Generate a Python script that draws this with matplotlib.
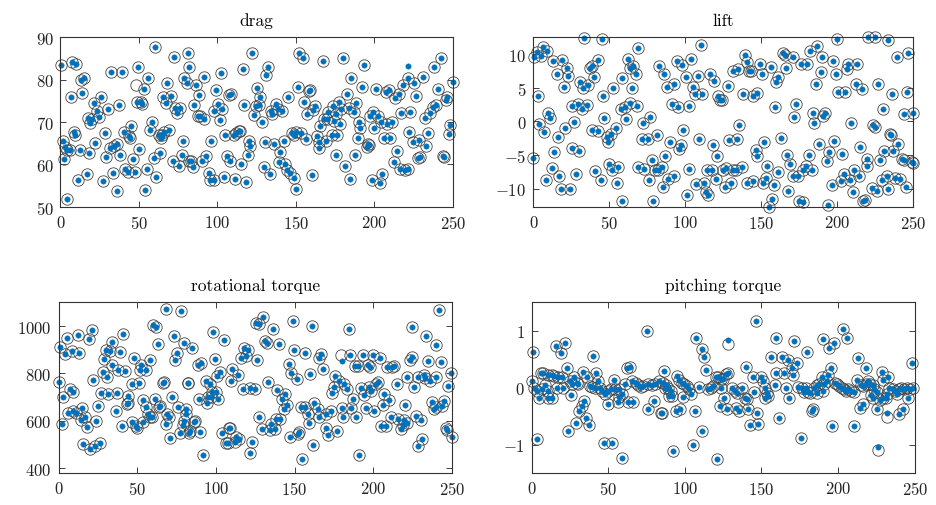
import matplotlib
matplotlib.use("Agg")
import matplotlib.pyplot as plt

# values (x = sample index, y = value)
drag_x = [0.4, 7.4, 10.2, 13.2, 14.9, 6.4, 14.0, 21.2, 17.4, 20.2, 19.1, 23.4, 24.4, 26.1, 30.4, 32.3, 38.9, 37.2, 28.2, 8.5,
          9.3, 1.3, 3.2, 4.2, 2.1, 5.9, 12.3, 18.0, 22.3, 29.3, 31.4, 34.4, 36.1, 38.2, 40.3, 43.5, 44.6, 45.0, 46.3, 49.9,
          33.5, 16.6, 11.0, 27.2, 35.7, 4.2, 41.4, 42.9, 47.3, 55.2, 61.1, 54.1, 49.3, 55.8, 60.1, 53.1, 48.9, 51.0, 52.0, 58.4,
          57.3, 62.6, 64.7, 66.2, 69.0, 64.1, 59.4, 63.3, 71.8, 75.4, 77.1, 78.1, 72.2, 81.1, 68.0, 70.1, 65.2, 67.5, 73.2, 76.0,
          74.3, 79.0, 80.3, 81.7, 81.7,
          86.6, 88.1, 91.3, 84.9, 87.4, 89.1, 91.7, 93.0, 90.2, 83.2, 84.5, 96.1, 94.4, 95.5, 98.1, 99.3, 102.3, 100.2, 97.6, 102.9,
          101.5, 106.1, 108.2, 104.0, 111.4, 118.4, 115.0, 105.1, 110.4, 112.1, 113.6, 114.2, 107.2, 108.7, 116.3, 122.0, 117.2, 119.9, 120.6, 119.5,
          123.5, 125.2, 126.9, 124.8, 126.5, 128.4, 129.5, 133.3, 130.5, 132.0, 131.2, 134.1, 134.8, 137.5, 138.4, 141.2, 136.3, 140.1, 142.2, 139.0,
          143.3, 144.3, 146.5, 148.6, 150.3, 145.2, 147.5, 149.0, 150.3, 153.3, 156.6, 151.8, 154.3, 151.1, 154.9, 158.1, 159.2, 157.1, 160.9, 162.4,
          160.3, 163.4, 164.5, 164.5, 169.4, 167.3, 165.6, 168.1, 170.3, 169.8,
          180.0, 193.2, 185.3, 192.1, 182.6, 177.3, 173.7, 175.2, 178.8, 183.6, 186.8, 188.5, 174.5, 178.3, 173.0, 176.2, 190.0, 191.1, 189.4, 195.7,
          195.3, 196.4, 187.3, 175.2, 181.5, 184.3, 198.5, 203.4, 205.1, 199.1, 202.1, 197.4, 204.2, 208.1, 211.2, 200.0, 206.4, 210.2, 201.3, 207.6,
          209.1, 213.4, 215.5, 214.4, 212.3, 216.6, 219.7, 221.2, 218.3, 221.2, 225.5, 231.0, 226.3, 217.2, 222.9, 232.5, 235.2, 237.4, 238.9, 240.3,
          246.3, 245.4, 238.2, 242.5, 221.9, 224.6, 228.2, 234.0, 233.1, 227.6, 229.3, 243.7, 244.6, 247.3, 248.4, 249.9]
drag_y = [83.4, 84.1, 83.7, 80.0, 80.5, 75.9, 76.9, 74.6, 71.0, 70.6, 69.8, 72.6, 71.2, 75.9, 73.1, 81.9, 81.8, 74.1, 67.4, 67.7,
          66.9, 65.5, 64.0, 63.5, 61.3, 63.4, 63.3, 62.7, 65.1, 61.8, 63.9, 64.3, 64.7, 62.3, 67.7, 66.7, 66.3, 69.0, 61.3, 63.7,
          57.9, 57.8, 56.2, 56.0, 53.7, 51.8, 59.0, 58.3, 58.1, 59.0, 57.1, 53.9, 83.0, 80.5, 87.8, 77.7, 74.8, 74.8, 74.3, 70.0,
          68.2, 67.0, 67.0, 67.7, 68.2, 66.2, 61.5, 62.7, 60.9, 59.5, 62.1, 65.6, 85.4, 86.4, 79.1, 76.1, 75.9, 74.6, 73.2, 73.4,
          72.2, 80.3, 79.3, 82.9, 60.7,
          78.8, 76.4, 80.7, 74.0, 71.4, 71.4, 70.6, 61.9, 60.7, 60.7, 59.3, 65.5, 57.9, 56.4, 56.4, 77.5, 81.5, 74.3, 72.6, 73.0,
          70.4, 61.9, 60.7, 56.9, 56.5, 55.8, 60.1, 66.9, 67.0, 67.4, 67.8, 67.8, 76.4, 76.5, 82.6, 86.3, 73.9, 65.5, 64.4, 62.3,
          71.6, 78.0, 75.9, 73.8, 73.9, 70.0, 59.3, 57.7, 65.3, 83.0, 81.1, 72.7, 71.9, 74.2, 73.0, 72.6, 64.8, 62.9, 65.5, 60.5,
          60.1, 58.6, 57.9, 56.7, 54.2, 75.9, 67.4, 67.0, 67.7, 67.4, 66.1, 86.2, 85.2, 78.3, 74.8, 77.3, 77.5, 71.9, 72.9, 73.7,
          57.5, 66.6, 65.3, 63.9, 65.5, 84.5, 69.0, 70.6, 72.4, 70.6,
          85.0, 83.4, 80.3, 78.3, 76.7, 74.8, 73.8, 71.8, 73.0, 73.2, 72.4, 74.4, 70.2, 69.6, 66.9, 66.9, 70.0, 68.7, 66.2, 64.8,
          64.2, 64.5, 62.1, 62.1, 59.5, 56.6, 56.4, 55.5, 57.7, 72.4, 71.4, 71.4, 70.0, 69.6, 70.0, 68.5, 66.2, 66.2, 77.7, 77.2,
          77.5, 75.7, 76.7, 63.2, 60.5, 59.0, 58.7, 59.0, 78.7, 80.5, 79.1, 80.7, 76.1, 72.2, 72.4, 71.0, 72.2, 73.5, 74.1, 77.9,
          75.9, 75.3, 82.9, 85.2, 67.7, 65.3, 65.8, 67.4, 64.3, 61.5, 61.7, 61.9, 61.7, 67.2, 69.3, 79.5]
drag_true_only_x = [48.4]
drag_true_only_y = [78.8]
drag_pred_only_x = [221.2]
drag_pred_only_y = [83.3]

lift_x = [0.7, 2.2, 5.0, 6.1, 9.2, 0.0, 3.3, 3.7, 7.2, 9.9, 11.0, 13.2, 15.4, 20.2, 19.1, 21.9, 23.0, 13.8, 16.0, 20.8,
          12.1, 16.9, 8.1, 18.2, 24.1, 25.2, 29.2, 32.2, 35.1, 27.0, 25.4, 29.8, 27.9, 33.6, 45.4, 30.7, 32.9, 36.2, 37.3, 38.4,
          40.1, 42.8, 46.1, 46.7, 38.8, 42.3, 48.2, 51.1, 49.3, 54.2, 40.6, 44.5, 50.0, 51.5, 55.9, 54.8, 58.1, 52.6, 58.1, 57.7,
          60.3, 63.6, 68.0, 60.7, 62.1, 63.6, 65.8, 67.3, 64.7, 69.1, 72.4, 76.8, 71.3, 75.2, 69.1, 73.0, 76.1, 77.9, 80.0, 82.2,
          78.9, 81.1, 82.7,
          86.0, 88.2, 92.6, 94.3, 98.1, 103.8, 91.1, 95.4, 102.5, 100.5, 104.9, 108.2, 106.4, 110.8, 110.1, 116.3, 119.1, 121.8, 122.9, 124.0,
          128.3, 90.0, 96.1, 97.0, 86.7, 98.7, 84.5, 88.9, 92.6, 85.1, 100.9, 102.7, 107.1, 112.3, 113.6, 115.2, 109.3, 118.0, 121.1, 114.1,
          117.4, 120.2, 124.6, 126.8, 131.2, 133.4, 137.1, 126.1, 129.9, 129.0, 134.3, 135.6, 131.6, 134.9, 139.3, 140.4, 142.2, 143.0, 149.2, 150.3,
          156.2, 138.2, 144.3, 147.4, 159.0, 161.2, 159.7, 164.1, 165.6, 166.3, 162.8, 151.8, 146.5, 147.4, 140.8, 144.8, 150.9, 153.1, 158.4, 154.0,
          161.2, 166.7, 167.8, 156.8, 155.3,
          170.6, 175.9, 179.8, 182.0, 186.9, 189.7, 189.1, 197.0, 199.1, 200.0, 186.0, 206.2, 207.3, 213.2, 212.3, 216.0, 200.7, 205.1, 220.4, 224.8,
          233.6, 226.6, 239.1, 246.7, 235.8, 245.6, 172.8, 171.5, 183.8, 184.7, 191.9, 190.8, 208.8, 223.3, 224.8, 229.8, 243.9, 250.0, 234.7, 188.2,
          197.8, 194.8, 202.9, 193.0, 168.9, 181.6, 179.4, 183.1, 171.1, 174.4, 177.2, 175.0, 177.7, 194.1, 196.3, 202.2, 204.4, 208.4, 211.0, 214.5,
          210.1, 214.9, 219.3, 219.8, 217.1, 218.2, 222.6, 226.3, 229.2, 232.5, 233.0, 228.1, 230.7, 236.9, 240.2, 235.1, 238.0, 241.2, 245.2, 242.3,
          243.9, 248.9, 249.6]
lift_y = [9.5, 10.3, 9.7, 11.0, 10.4, -5.5, 3.8, -0.4, -1.6, 1.3, 0.5, 9.0, 7.0, 5.1, 9.1, 8.0, 6.8, -4.5, -2.4, -1.0,
          -6.9, -8.1, -8.8, -10.0, -10.0, 2.3, 2.6, 1.8, 2.5, -0.1, -4.0, -4.4, -7.9, 12.4, 12.2, 5.9, 5.0, 5.4, 8.0, 8.3,
          6.6, 9.1, 3.8, 0.5, -1.3, -1.5, -2.4, -1.9, -3.1, -1.0, -7.4, -8.8, -6.3, -7.3, -6.8, -9.1, -11.9, 5.0, 6.5, 1.9,
          2.1, 2.8, 2.3, 0.3, 9.3, 8.0, 8.3, 7.0, 5.0, 10.9, -0.3, 0.7, -2.6, -2.6, -6.8, -7.1, -8.7, -5.8, -7.2, -7.3,
          -11.9, -2.1, 8.3,
          7.0, 5.1, 5.6, 9.0, 8.4, 9.3, 2.6, 2.2, 2.3, 6.6, 5.1, 6.7, 4.0, 4.0, 11.4, 7.1, 6.0, 3.8, 3.2, 3.1,
          5.2, -3.1, -4.1, -3.5, -5.2, -1.3, -6.8, -8.6, -8.1, -9.8, -10.9, -7.1, -9.3, -9.2, -10.5, -11.0, -2.6, -3.5, -5.2, -7.2,
          -7.2, -8.6, -7.2, -7.0, -7.2, -7.3, -6.8, -9.7, -9.2, -2.8, -2.6, -0.6, 7.5, 7.8, 9.8, 8.8, 7.5, 7.5, 8.5, 7.0,
          8.1, 4.1, 3.8, 4.2, 2.1, 6.6, 5.8, 10.2, 9.9, 8.0, -2.5, -3.1, -4.3, -5.2, -9.1, -8.9, -9.2, -8.4, -9.4, -6.6,
          -7.6, -5.0, -10.3, -11.5, -12.8,
          9.6, 8.6, 8.5, 10.4, 11.2, 9.5, 7.4, 9.0, 7.0, 12.2, 5.5, 7.8, 8.6, 8.6, 5.5, 4.8, 4.4, 4.3, 12.5, 12.5,
          12.1, 5.6, 9.5, 10.1, 4.1, 4.3, 2.6, 0.7, 1.2, -0.3, 1.2, 0.8, -0.3, -0.6, -0.9, 1.8, 1.1, 1.3, -1.9, -3.4,
          -2.9, -4.5, -4.9, -5.9, -6.3, -5.0, -6.6, -7.3, -8.2, -8.1, -7.3, -11.9, -12.0, -12.5, -9.4, -8.9, -7.8, -8.8, -7.3, -8.1,
          -10.5, -3.8, -5.6, -6.7, -11.8, -11.7, -9.9, -10.4, -8.7, -8.2, -10.0, -5.8, -4.4, -4.4, -3.3, -2.0, -8.4, -8.6, -9.7, -5.6,
          -5.8, -6.1, -6.2]

rot_x = [1.0, 4.1, 5.2, 8.3, 12.2, 13.2, 19.6, 21.1, 0.0, 3.1, 7.3, 9.0, 6.2, 9.4, 11.1, 14.7, 14.1, 16.8, 17.9, 23.8,
         25.3, 2.0, 15.7, 20.0, 23.1, 26.3, 21.7, 26.7, 31.6, 36.9, 28.0, 30.9, 33.7, 37.9, 42.2, 34.3, 30.1, 33.0, 39.0, 40.7,
         28.9, 36.5, 40.1, 44.3, 44.3, 43.6, 47.0, 51.2, 48.1, 52.3, 55.5, 58.0, 51.7, 46.4, 49.1, 50.0, 53.8, 57.0, 55.9, 58.0,
         59.1, 53.4, 60.1, 62.2, 63.3, 68.2, 78.1, 61.2, 63.9, 64.8, 66.5, 66.9, 69.0, 70.3, 68.6, 72.4, 76.0, 71.1, 77.1, 79.6,
         81.3, 82.4, 73.3, 75.0, 73.9, 79.6,
         85.0, 88.6, 90.7, 98.1, 104.9, 99.2, 102.8, 100.7, 82.3, 93.5, 96.5, 97.7, 99.8, 95.0, 97.1, 101.3, 89.3, 94.3, 80.8, 86.5,
         85.9, 79.1, 83.8, 82.9, 90.1, 91.8, 104.1, 108.3, 109.1, 112.9, 114.6, 111.9, 106.6, 107.7, 110.4, 114.0, 109.8, 117.6, 119.3, 116.1,
         120.3, 126.0, 117.2, 121.4, 124.6, 125.2, 127.3, 129.9, 136.2, 131.5, 132.4, 140.0, 133.0, 123.1, 121.8, 127.7, 129.4, 134.5, 135.1, 137.3,
         138.3, 140.8, 138.7, 144.2, 142.1, 143.0, 145.1, 146.3, 147.8, 151.4, 149.9, 156.9, 149.3, 161.1, 147.2, 152.7, 152.1, 154.8, 154.2, 156.3,
         158.4, 159.0, 162.0, 160.1, 162.6, 164.7, 165.4, 170.0, 165.8, 166.9, 168.3, 170.0, 171.1,
         184.3, 185.2, 193.2, 200.0, 204.2, 188.5, 190.0, 196.4, 197.8, 175.8, 178.4, 181.6, 183.1, 175.2, 173.7, 186.8, 192.1, 194.2, 197.4, 198.5,
         201.6, 203.3, 206.9, 209.7, 195.3, 200.6, 205.9, 180.1, 185.8, 189.0, 173.1, 176.7, 180.9, 191.1, 204.8, 208.0, 211.2, 215.4, 217.5, 218.6,
         221.1, 219.6, 220.2, 209.0, 211.8, 213.3, 214.8, 221.7, 226.0, 228.1, 232.3, 232.9, 235.9, 240.1, 223.2, 224.5, 224.9, 233.8, 239.7, 235.0,
         242.9, 241.8, 249.2, 247.7, 227.0, 230.2, 237.2, 238.6, 239.7, 245.0, 243.9, 231.2, 228.7, 246.1, 247.1, 250.3]
rot_y = [911, 883, 950, 894, 961, 888, 947, 985, 763, 700, 735, 721, 633, 641, 633, 655, 602, 618, 576, 599,
         662, 587, 503, 482, 492, 506, 773, 717, 714, 717, 808, 787, 834, 816, 810, 932, 900, 894, 890, 965,
         862, 641, 580, 703, 675, 669, 757, 759, 866, 834, 813, 858, 813, 594, 580, 571, 594, 627, 658, 618,
         618, 689, 1003, 996, 925, 1073, 1063, 693, 658, 661, 759, 764, 627, 618, 587, 700, 658, 528, 548, 599,
         651, 759, 956, 886, 855, 928,
         906, 834, 844, 975, 943, 862, 807, 789, 761, 768, 756, 721, 723, 700, 700, 694, 694, 675, 629, 601,
         596, 582, 557, 550, 553, 455, 550, 568, 571, 532, 522, 512, 506, 506, 820, 792, 768, 908, 873, 866,
         897, 856, 735, 740, 735, 1013, 1010, 1038, 989, 937, 928, 923, 763, 512, 466, 616, 566, 560, 585, 566,
         608, 608, 731, 714, 693, 651, 665, 838, 801, 777, 897, 888, 1021, 999, 531, 552, 545, 440, 658, 658,
         630, 590, 500, 798, 675, 651, 618, 627, 866, 880, 817, 568, 542,
         989, 876, 879, 876, 866, 830, 830, 834, 827, 789, 768, 757, 736, 744, 719, 694, 738, 710, 741, 727,
         756, 763, 714, 689, 655, 641, 665, 655, 655, 618, 641, 557, 618, 458, 580, 580, 616, 608, 566, 584,
         590, 604, 665, 827, 827, 830, 757, 785, 744, 787, 794, 780, 770, 787, 858, 869, 996, 958, 920, 851,
         849, 1069, 801, 745, 622, 605, 679, 651, 658, 683, 661, 525, 496, 570, 560, 532]
rot_true_only_x = [179.4]
rot_true_only_y = [876]
rot_pred_only_x = [179.9]
rot_pred_only_y = [852]

pitch_x = [1.1, 0.0, 1.7, 3.3, 4.8, 6.5, 8.7, 10.9, 10.4, 13.0, 6.1, 7.6, 10.9, 13.5, 14.8, 17.4, 19.6, 16.3, 20.7, 15.7,
           21.7, 19.1, 3.3, 22.8, 25.0, 26.5, 29.3, 27.8, 30.4, 25.7, 33.7, 35.9, 38.0, 39.6, 34.3, 32.6, 30.9, 35.2, 37.4, 28.7,
           23.9, 39.8, 41.7, 43.0, 41.3, 44.6, 46.1, 47.8, 50.0, 51.7, 54.3, 57.0, 58.7, 60.9, 53.9, 47.4, 52.2, 58.7, 50.0, 56.5,
           57.0, 62.6, 66.3, 62.0, 64.1, 65.2, 67.8, 69.6, 71.3, 72.8, 76.1, 78.7, 80.4, 83.0, 75.0, 75.7, 80.0, 84.3,
           86.3, 84.8, 85.9, 87.6, 89.2, 90.7, 89.8, 91.3, 87.0, 94.6, 96.3, 97.9, 99.4, 101.1, 102.9, 103.7, 98.9, 94.2, 96.8, 92.4,
           106.5, 105.5, 111.5, 107.6, 110.9, 112.4, 113.7, 109.4, 115.2, 116.8, 118.5, 120.2, 121.8, 123.9, 125.0, 126.8, 128.3, 123.3, 120.7, 122.9,
           125.5, 127.2, 131.1, 132.6, 134.2, 133.7, 135.5, 137.0, 139.2, 140.3, 141.3, 142.4, 147.9, 147.2, 140.2, 144.2, 145.0, 150.0, 151.1, 152.2,
           153.3, 154.4, 152.2, 146.3, 159.8, 156.5, 159.4, 158.7, 161.5, 163.1, 164.6, 165.9, 167.4, 168.1,
           169.7, 170.8, 173.4, 171.2, 179.5, 175.6, 174.1, 176.2, 177.8, 179.1, 180.6, 181.7, 183.4, 182.8, 184.3, 186.0, 187.8, 189.3, 190.8, 192.5,
           193.6, 195.1, 189.9, 186.4, 190.4, 194.3, 197.3, 203.0, 205.6, 195.8, 210.4, 198.0, 199.5, 200.8, 202.3, 203.8, 205.1, 206.7, 208.2, 210.4,
           212.2, 214.7, 216.5, 218.2, 219.7, 220.8, 222.5, 223.4, 225.1, 227.3, 229.5, 231.2, 232.1, 233.4, 235.6, 237.1, 238.2, 239.9, 241.4, 243.0,
           245.1, 246.9, 248.6, 213.2, 218.2, 214.3, 216.0, 221.2, 222.5, 225.1, 228.4, 229.1, 232.8, 239.9, 242.5, 245.8, 248.0]
pitch_y = [0.62, 0.12, -0.01, -0.05, -0.18, -0.03, 0.05, -0.06, -0.19, -0.19, 0.25, 0.25, 0.22, 0.22, 0.21, 0.19, 0.18, 0.0, 0.0, 0.73,
           0.79, 0.61, -0.91, 0.34, 0.11, 0.07, 0.09, 0.19, 0.06, -0.13, 0.28, 0.18, 0.03, 0.01, -0.23, -0.32, -0.41, -0.54, -0.65, -0.62,
           -0.76, 0.55, 0.26, 0.11, 0.0, -0.01, -0.06, -0.12, -0.05, -0.03, -0.03, -0.02, -0.11, 0.07, 0.13, -0.97, -0.98, -1.24, -0.28, -0.26,
           -0.16, -0.25, -0.26, 0.34, 0.36, 0.11, 0.09, 0.05, 0.01, 0.03, 0.06, 0.05, 0.07, 0.11, 0.99, -0.38, -0.23, -0.44,
           0.29, -0.44, 0.09, 0.05, -0.01, -0.06, -0.15, -0.15, 0.0, 0.21, 0.13, 0.09, 0.06, 0.03, -0.03, -0.12, -0.16, -0.41, -0.38, -1.12,
           -0.41, -1.01, -0.76, 0.87, 0.68, 0.54, 0.31, 0.01, -0.03, 0.0, 0.03, 0.18, 0.19, 0.15, 0.15, 0.24, 0.25, 0.0, -1.26, -0.32,
           -0.19, -0.38, -0.01, -0.06, -0.09, -0.36, -0.41, 0.0, -0.19, -0.2, -0.38, -0.65, -0.64, -0.44, 0.36, 0.19, -0.07, 0.18, 0.11, -0.01,
           -0.09, -0.15, -0.19, 1.17, 0.88, 0.53, 0.26, 0.05, -0.54, 0.53, 0.25, -0.01, 0.48, -0.19,
           0.35, 0.22, 0.44, 0.82, 0.63, -0.89, 0.01, 0.0, -0.07, -0.01, -0.07, -0.09, -0.38, -0.41, 0.0, 0.05, 0.07, 0.19, 0.07, 0.11,
           0.22, 0.34, -0.06, -0.09, 0.85, 0.7, 0.79, 1.03, 0.88, -0.68, -0.68, 0.09, 0.06, 0.03, 0.0, -0.03, -0.06, -0.03, -0.06, -0.07,
           0.13, 0.05, 0.03, 0.06, 0.11, 0.07, 0.05, -0.03, -0.07, -0.21, -0.19, -0.19, -0.11, -0.01, -0.03, -0.06, -0.12, -0.03, 0.0, -0.03,
           -0.01, -0.03, -0.01, 0.52, 0.34, -0.35, -0.29, -0.13, -0.19, -0.38, 0.28, 0.13, 0.18, -0.47, -0.38, -0.19, 0.44]
pitch_true_only_x = [128.3, 232.1, 226.2]
pitch_true_only_y = [0.76, -0.52, -1.09]
pitch_pred_only_x = [128.3, 232.1, 226.2]
pitch_pred_only_y = [0.84, -0.44, -1.05]

titles = ["drag", "lift", "rotational torque", "pitching torque"]

plt.rcParams["font.family"] = "serif"
plt.rcParams["font.serif"] = ["cmr10"]
plt.rcParams["mathtext.fontset"] = "cm"
plt.rcParams["axes.formatter.use_mathtext"] = True
plt.rcParams["axes.unicode_minus"] = True

fig = plt.figure(figsize=(9.36, 5.06), dpi=100)

# axes rectangles in figure fractions
ax_drag = fig.add_axes([0.0646, 0.5895, 0.4193, 0.3348])
ax_lift = fig.add_axes([0.5698, 0.5895, 0.4060, 0.3348])
ax_rot = fig.add_axes([0.0625, 0.0632, 0.4204, 0.3374])
ax_pitch = fig.add_axes([0.5680, 0.0632, 0.4092, 0.3374])

blue = "#0072bd"
panels = [
    (ax_drag, drag_x, drag_y, drag_true_only_x, drag_true_only_y, drag_pred_only_x, drag_pred_only_y,
     (50, 90), [50, 60, 70, 80, 90]),
    (ax_lift, lift_x, lift_y, [], [], [], [], (-12.7, 12.5), [-10, -5, 0, 5, 10]),
    (ax_rot, rot_x, rot_y, rot_true_only_x, rot_true_only_y, rot_pred_only_x, rot_pred_only_y,
     (380, 1100), [400, 600, 800, 1000]),
    (ax_pitch, pitch_x, pitch_y, pitch_true_only_x, pitch_true_only_y, pitch_pred_only_x, pitch_pred_only_y,
     (-1.5, 1.5), [-1, 0, 1]),
]

for (ax, x, y, tx, ty, px, py, ylim, yticks), title in zip(panels, titles):
    # ground truth: open circles
    ax.plot(x + tx, y + ty, linestyle="none", marker="o", markersize=8.2,
            markerfacecolor="none", markeredgecolor="#444444", markeredgewidth=0.6, clip_on=False)
    # prediction: filled dots
    ax.plot(x + px, y + py, linestyle="none", marker="o", markersize=3.9,
            markerfacecolor=blue, markeredgecolor=blue, markeredgewidth=0.3, clip_on=False)
    ax.set_xlim(0, 250)
    ax.set_ylim(*ylim)
    ax.set_xticks([0, 50, 100, 150, 200, 250])
    ax.set_yticks(yticks)
    ax.tick_params(direction="in", top=True, right=True, length=4, width=0.6,
                   labelsize=12, colors="#222222", pad=5)
    for s in ax.spines.values():
        s.set_linewidth(0.8)
        s.set_color("#333333")
    ax.set_title(title, fontsize=12.5, pad=9)

fig.savefig("out.png", dpi=100)
